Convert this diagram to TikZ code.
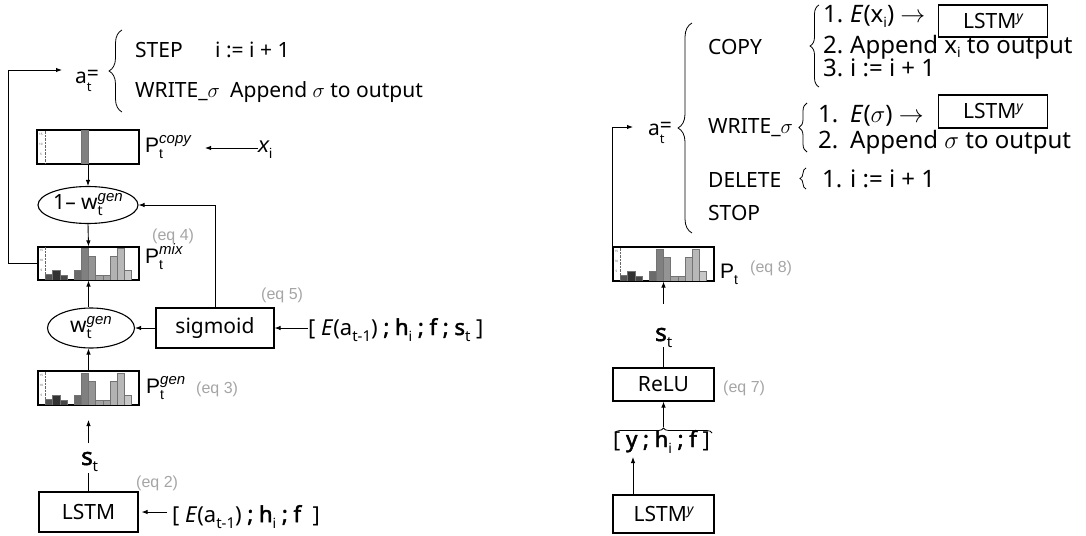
\documentclass[tikz,border=0pt]{standalone}
\usepackage{fontspec}
\setmainfont{Noto Sans}
\newfontfamily\nsb{Noto Sans}[FakeBold=2.2]
\newfontfamily\arial{Liberation Sans}
\usetikzlibrary{arrows.meta,decorations.pathreplacing,shapes.geometric}
\definecolor{eqgray}{RGB}{165,165,165}
\newcommand\myfs[1]{\fontsize{#1}{#1}\selectfont}
\newcommand\B[1]{{\nsb #1}}
\newcommand\Plab[1]{{\arial P\rlap{\raisebox{-6pt}{\myfs{14}t}}\raisebox{9pt}{\myfs{15}\itshape #1}}}
\newcommand\subt{\rlap{\raisebox{-8pt}{\myfs{13}t}}}
\newcommand\lstmy{LSTM\raisebox{7pt}{\myfs{14}\itshape y}}
\newcommand\haxis{%
  \draw[black!60, densely dotted, line width=0.4pt] (8,0) -- (8,-34);
  \foreach \v in {5,10,15} \node[font=\myfs{3}, text=black!70, inner sep=0pt] at (4,-2*\v) {\v};}
\newcommand\histo[1]{%
  \begin{scope}[shift={(#1.south west)}]
    \foreach \k/\h/\c in {0/3.3/68,1/5/80,2/2.5/72,4/5/58,5/16/50,6/12/42,7/2.5/36,8/2.5/36,9/12/30,10/16/28,11/5/22}
      \filldraw[fill=black!\c, draw=black!55, line width=0.3pt] (8+\k*7.15,0) rectangle ++(7.15,-2*\h);
    \haxis
  \end{scope}
  \draw[line width=1.1pt] (#1.south west) rectangle (#1.north east);}
\begin{document}
\begin{tikzpicture}[x=1pt,y=-1pt,
  font=\myfs{21},
  box/.style={draw, line width=1.1pt, inner sep=0pt},
  arr/.style={line width=0.9pt, -{Latex[length=6pt,width=4.5pt]}},
  ln/.style={line width=0.9pt},
  eqlbl/.style={text=eqgray, font=\arial\myfs{16}, anchor=base west, inner sep=0pt},
  txt/.style={anchor=base west, inner sep=0pt},
  item/.style={anchor=base west, inner sep=0pt, font=\myfs{24}},
  brc/.style={decorate, decoration={brace, amplitude=#1}, line width=0.8pt},
]
\useasboundingbox (0,0) rectangle (1086,535);

% ---------------- left diagram ----------------
\node[box, minimum width=101pt, minimum height=34pt] (pcopy) at (88,147) {};
\node[box, ellipse, minimum width=100pt, minimum height=37pt] (omw) at (88,205) {1– w\rlap{\raisebox{-6pt}{\myfs{14}t}}\raisebox{8pt}{\arial\itshape\myfs{15}gen}};
\node[box, minimum width=101pt, minimum height=33pt] (pmix) at (88.5,263.5) {};
\node[box, ellipse, minimum width=87pt, minimum height=40pt] (wg) at (91,328) {w\rlap{\raisebox{-6pt}{\myfs{14}t}}\raisebox{8pt}{\arial\itshape\myfs{15}gen}};
\node[box, minimum width=118pt, minimum height=40pt] (sig) at (215,328) {sigmoid};
\node[box, minimum width=101pt, minimum height=34pt] (pgen) at (88.5,388) {};
\node[box, minimum width=99pt, minimum height=40pt] (lstm) at (88.5,512) {LSTM};

% copy distribution: one bar
\begin{scope}[shift={(pcopy.south west)}]
  \filldraw[fill=black!50, draw=black!55, line width=0.3pt] (8+5*7.15,0) rectangle ++(7.15,-34);
  \haxis
\end{scope}
\draw[line width=1.1pt] (pcopy.south west) rectangle (pcopy.north east);
\histo{pmix}
\histo{pgen}

\node[txt] (at1) at (75,83) {a\subt\raisebox{2.5pt}{=}};
\draw[brc=13] (122,112) -- (122,30);
\node[txt] (step) at (135,58) {STEP};
\node[txt] (stepdo) at (215,58) {i := i + 1};
\node[txt] (wr) at (135,97) {WRITE\_$\sigma$};
\node[txt] (wrdo) at (230,97) {Append $\sigma$ to output};

\node[txt] (pcopyl) at (145,152) {\Plab{copy}};
\node[txt, font=\arial\itshape\myfs{22}] (xi) at (258,152) {x\raisebox{-6pt}{\upshape\myfs{14}i}};
\coordinate (cpin) at (205,148);
\draw[arr] (xi.west |- cpin) -- (cpin);

\draw[arr] (pcopy.south) -- (omw.north);
\draw[arr] (omw.south) -- (pmix.north);
\draw[arr] (sig.north) |- (omw.east);
\draw[arr] (sig.west) -- (wg.east);
\draw[arr] (pmix.south |- wg.north) -- (pmix.south);
\draw[arr] (pgen.north) -- (pgen.north |- wg.south);

\node[txt] (pmixl) at (145,263) {\Plab{mix}};
\node[eqlbl] (eq4) at (152,240) {(eq 4)};
\node[eqlbl] (eq5) at (261,299) {(eq 5)};
\node[txt] (pgenl) at (146,393) {\Plab{gen}};
\node[eqlbl] (eq3) at (196,393) {(eq 3)};

\node[txt, font=\myfs{22}] (sigin) at (308,335) {[ \textit{E}(a\raisebox{-6pt}{\myfs{15}t-1}) \B{; h}\raisebox{-6pt}{\myfs{14}i} \B{; f ; s}\raisebox{-6pt}{\myfs{15}t} ]};
\draw[arr] (sigin.west |- sig.east) -- (sig.east);

\node[txt, anchor=base] (st1) at (87,465) {\myfs{24}\B{s}\rlap{\raisebox{-6pt}{\myfs{15}t}}};
\coordinate (genin) at (88.5,420);
\coordinate (stout) at (88.5,443);
\draw[arr] (stout) -- (genin);
\coordinate (stin) at (88.5,473);
\draw[ln] (lstm.north) -- (stin);

\node[eqlbl] (eq2) at (136,487) {(eq 2)};
\node[txt, font=\myfs{22}] (lin) at (172,522) {[ \textit{E}(a\raisebox{-6pt}{\myfs{15}t-1}) \B{; h}\raisebox{-6pt}{\myfs{14}i} \B{; f} ~]};
\draw[arr] ([xshift=-5pt]lin.west |- lstm.east) -- ([xshift=3pt]lstm.east);

\coordinate (atin) at (62,70);
\draw[arr] (pmix.west) -- ++(-29,0) |- (atin);

% ---------------- right diagram ----------------
\node[box, minimum width=101pt, minimum height=34pt] (pt) at (663.5,264) {};
\histo{pt}
\node[box, minimum width=101pt, minimum height=33pt] (relu) at (663.5,384.5) {ReLU};
\node[box, minimum width=101pt, minimum height=38pt] (lstmy) at (663.5,514) {\lstmy};

\coordinate (atin2) at (633,127);
\draw[arr] (pt.north west) |- (atin2);
\node[txt] (at2) at (648,135) {a\subt\raisebox{2.5pt}{=}};
\draw[brc=14] (692,233) -- (692,23);

\node[txt] (copy) at (708,55) {COPY};
\draw[brc=9] (819,87) -- (819,5);
\node[item] (c1n) at (823,23) {1.};
\node[item] (c1) at (850,23) {\textit{E}(x\raisebox{-5pt}{\myfs{14}i}) $\rightarrow$};
\node[box, minimum width=109pt, minimum height=32pt] (ly1) at (993,21) {\lstmy};
\node[item] (c2n) at (823,53) {2.};
\node[item] (c2) at (850,53) {Append x\raisebox{-5pt}{\myfs{14}i} to output};
\node[item] (c3n) at (823,77) {3.};
\node[item] (c3) at (850,77) {i := i + 1};

\node[txt] (wr2) at (708,133) {WRITE\_$\sigma$};
\draw[brc=8] (807,152) -- (807,103);
\node[item] (w1n) at (818,122) {1.};
\node[item] (w1) at (850,122) {\textit{E}($\sigma$) $\rightarrow$};
\node[box, minimum width=109pt, minimum height=33pt] (ly2) at (993,111.5) {\lstmy};
\node[item] (w2n) at (818,148) {2.};
\node[item] (w2) at (850,148) {Append $\sigma$ to output};

\node[txt] (del) at (708,187) {DELETE};
\draw[brc=6] (806,189) -- (806,168);
\node[item] (d1n) at (822,187) {1.};
\node[item] (d1) at (850,187) {i := i + 1};
\node[txt] (stop) at (708,220) {STOP};

\node[txt] (ptl) at (720,278) {\arial P\raisebox{-6pt}{\myfs{14}t}};
\node[eqlbl] (eq8) at (750,272) {(eq 8)};
\node[txt, anchor=base] (st2) at (661,341) {\myfs{24}\B{s}\rlap{\raisebox{-6pt}{\myfs{15}t}}};
\coordinate (st2out) at (663.5,304);
\draw[arr] (st2out) -- (pt.south);
\coordinate (st2in) at (663.5,347);
\draw[ln] (relu.north) -- (st2in);
\node[eqlbl] (eq7) at (723,392) {(eq 7)};
\draw[brc=5] (615,433) -- (712,433);
\coordinate (btip) at (663.5,427);
\draw[arr] (relu.south |- btip) -- (relu.south);
\node[txt, font=\myfs{22}] (cat) at (613,447) {[ \B{y ; h}\raisebox{-6pt}{\myfs{14}i}\B{ ; f} ]};
\coordinate (ybot) at (633,457);
\draw[arr] (lstmy.north -| ybot) -- (ybot);
\end{tikzpicture}
\end{document}
